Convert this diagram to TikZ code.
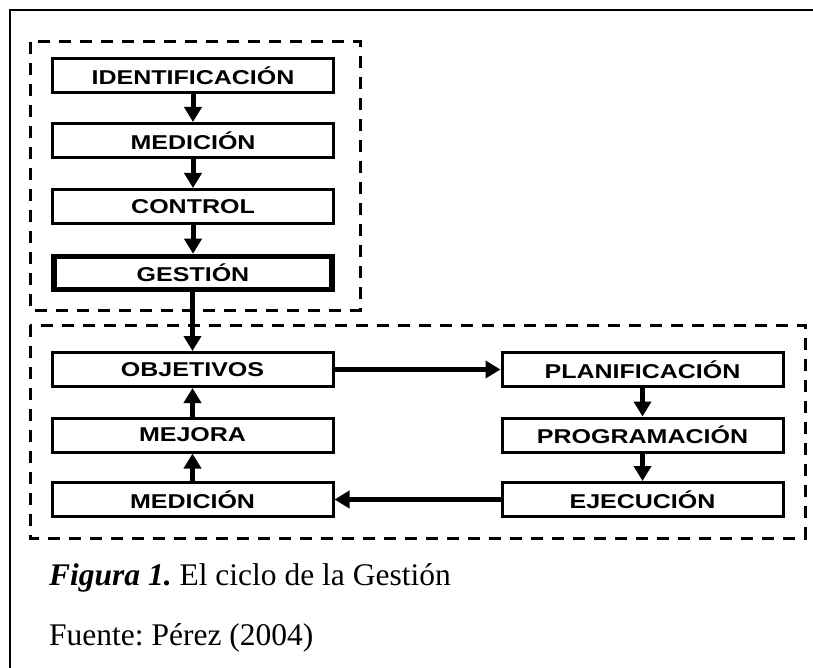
\documentclass[tikz,border=0pt]{standalone}
\usepackage{fontspec}
\setmainfont{Liberation Serif}
\newfontfamily\boxfont{Liberation Sans}
\usetikzlibrary{arrows.meta}
\frenchspacing

% wide bold sans label used inside the boxes
\newcommand{\boxlabel}[1]{\scalebox{1.25}[1]{\boxfont\bfseries\fontsize{20}{23}\selectfont #1}}

\tikzset{
  stagebox/.style={draw, line width=3pt, minimum width=281pt, minimum height=34pt,
                   inner sep=0pt, fill=white},
  keybox/.style={stagebox, line width=5.5pt},
  groupframe/.style={draw, line width=3pt, dash pattern=on 12pt off 9pt},
  flow/.style={line width=5pt, -{Triangle[length=15pt, width=17pt]}},
  caption/.style={anchor=base west, inner sep=0pt, font=\fontsize{31.5}{38}\selectfont}
}

\begin{document}
\begin{tikzpicture}[x=1pt, y=-1pt]
  \useasboundingbox (0,0) rectangle (813,668);
  \fill[white] (0,0) rectangle (813,668);

  % page frame (left and top edges)
  \draw[line width=2.5pt] (10,668) -- (10,10) -- (813,10);

  % dashed group frames
  \draw[groupframe] (30,42) rectangle (360,310);
  \draw[groupframe] (30,325) rectangle (805,538);

  % upper column
  \node[stagebox] (ident) at (193,75.5)  {\boxlabel{IDENTIFICACIÓN}};
  \node[stagebox] (med1)  at (193,140.5) {\boxlabel{MEDICIÓN}};
  \node[stagebox] (ctrl)  at (193,206.5) {\boxlabel{CONTROL}};
  \node[keybox, minimum width=278pt, minimum height=33pt] (gest) at (193,273) {\boxlabel{GESTIÓN}};

  % cycle: left column
  \node[stagebox] (obj)   at (192.5,369.5) {\boxlabel{OBJETIVOS}};
  \node[stagebox] (mej)   at (192.5,435)   {\boxlabel{MEJORA}};
  \node[stagebox] (med2)  at (192.5,499.5) {\boxlabel{MEDICIÓN}};

  % cycle: right column
  \node[stagebox] (plan)  at (642.5,369.5) {\boxlabel{PLANIFICACIÓN}};
  \node[stagebox] (prog)  at (642.5,435)   {\boxlabel{PROGRAMACIÓN}};
  \node[stagebox] (ejec)  at (642.5,499.5) {\boxlabel{EJECUCIÓN}};

  % connectors
  \draw[flow] (ident) -- (med1);
  \draw[flow] (med1) -- (ctrl);
  \draw[flow] (ctrl) -- (gest);
  \draw[flow] (gest.south -| obj.north) -- (obj.north);
  \draw[flow] (obj) -- (plan);
  \draw[flow] (plan) -- (prog);
  \draw[flow] (prog) -- (ejec);
  \draw[flow] (ejec) -- (med2);
  \draw[flow] (med2) -- (mej);
  \draw[flow] (mej) -- (obj);

  % caption and source
  \node[caption] (cap) at (49,585) {\textbf{\textit{Figura 1.}} El ciclo de la Gestión};
  \node[caption] (src) at (49,645) {Fuente: Pérez (2004)};
\end{tikzpicture}
\end{document}
